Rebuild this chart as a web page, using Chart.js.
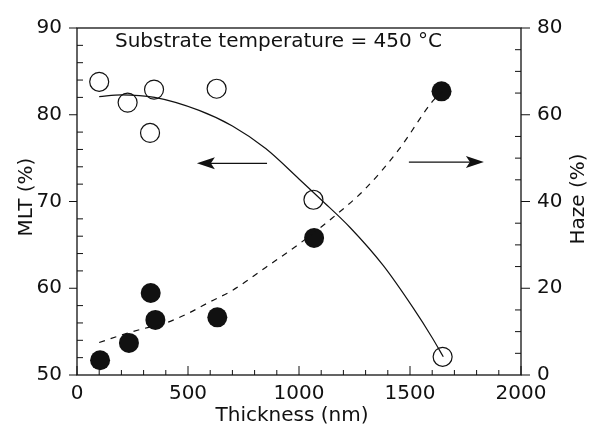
<!DOCTYPE html>
<html>
<head>
<title>MLT and Haze vs Thickness</title>
<script src="https://cdn.jsdelivr.net/npm/chart.js"></script>
<style>
    body { margin: 0; background: #fff; }
    #chart { display: block; }
</style>
</head>
<body>
<canvas id="chart" width="591" height="425"></canvas>
<script>
// measured points (open circles -> MLT, left axis; filled -> Haze, right axis)
const mltThickness = [100, 228, 329, 347, 629, 1065, 1647];
const mltValues = [83.8, 81.4, 77.9, 82.9, 83.0, 70.2, 52.1];
const hazeThickness = [104, 234, 332, 353, 632, 1068, 1642];
const hazeValues = [3.4, 7.4, 18.9, 12.7, 13.3, 31.6, 65.4];

// guide curves
const mltFitThickness = [100, 200, 350, 550, 700, 850, 1000, 1100, 1230, 1380, 1515, 1600, 1650];
const mltFitValues = [82.1, 82.3, 82.0, 80.5, 78.7, 76.1, 72.6, 70.2, 67.0, 62.6, 57.7, 54.3, 52.1];
const hazeFitThickness = [100, 200, 300, 400, 500, 600, 700, 850, 1000, 1150, 1300, 1450, 1600, 1645];
const hazeFitValues = [7.5, 9.2, 10.7, 12.0, 14.2, 16.9, 19.5, 24.8, 30.2, 36.2, 43.0, 52.0, 63.0, 65.4];

// arrows pointing to the axis each curve belongs to
const arrowFrom = [856, 1495];
const arrowTo = [540, 1833];
const arrowLevel = [74.4, 49.1];
const arrowAxis = ['y', 'y1'];

const ink = '#111';
const tickFont = { family: 'DejaVu Sans', size: 20 };
const plainTick = v => String(v);

function pts(xs, ys) {
    return xs.map((x, i) => ({ x: x, y: ys[i] }));
}

function arrowHead(ctx, tx, ty, dir) {
    ctx.beginPath();
    ctx.moveTo(tx, ty);
    ctx.lineTo(tx - dir * 18, ty - 6);
    ctx.lineTo(tx - dir * 14, ty);
    ctx.lineTo(tx - dir * 18, ty + 6);
    ctx.closePath();
    ctx.fill();
}

// frame, inner/outer tick marks, arrows and text
const framePlugin = {
    id: 'frame',
    afterDatasetsDraw(chart) {
        const { ctx, chartArea: a, scales } = chart;
        const x = scales.x, yl = scales.y, yr = scales.y1;
        ctx.save();
        ctx.strokeStyle = ink;
        ctx.fillStyle = ink;
        ctx.lineWidth = 1.3;
        ctx.strokeRect(a.left, a.top, a.right - a.left, a.bottom - a.top);

        ctx.lineWidth = 1;
        ctx.beginPath();
        for (let v = 0; v <= 2000; v += 100) {
            const px = x.getPixelForValue(v);
            const len = v % 500 === 0 ? 9 : 5;
            ctx.moveTo(px, a.bottom);
            ctx.lineTo(px, a.bottom - len);
        }
        for (let v = 50; v <= 90; v += 2) {
            const py = yl.getPixelForValue(v);
            if (v % 10 === 0) {
                ctx.moveTo(a.left - 8, py);
                ctx.lineTo(a.left, py);
            } else {
                ctx.moveTo(a.left, py);
                ctx.lineTo(a.left + 6, py);
            }
        }
        for (let v = 0; v <= 80; v += 5) {
            const py = yr.getPixelForValue(v);
            if (v % 20 === 0) {
                ctx.moveTo(a.right, py);
                ctx.lineTo(a.right + 9, py);
            } else {
                ctx.moveTo(a.right, py);
                ctx.lineTo(a.right - 6, py);
            }
        }
        ctx.stroke();

        // arrows
        ctx.lineWidth = 1.3;
        arrowFrom.forEach((f, i) => {
            const sc = scales[arrowAxis[i]];
            const py = sc.getPixelForValue(arrowLevel[i]);
            const x0 = x.getPixelForValue(f);
            const x1 = x.getPixelForValue(arrowTo[i]);
            const dir = x1 > x0 ? 1 : -1;
            ctx.beginPath();
            ctx.moveTo(x0, py);
            ctx.lineTo(x1 - dir * 14, py);
            ctx.stroke();
            arrowHead(ctx, x1, py, dir);
        });

        // texts
        ctx.font = '20px "DejaVu Sans"';
        ctx.textBaseline = 'alphabetic';
        ctx.textAlign = 'left';
        ctx.fillText('Substrate temperature = 450 \u00b0C', 115, 47);

        ctx.textAlign = 'center';
        ctx.fillText('Thickness (nm)', 292, 421);

        ctx.save();
        ctx.translate(32, 197);
        ctx.rotate(-Math.PI / 2);
        ctx.fillText('MLT (%)', 0, 0);
        ctx.restore();

        ctx.save();
        ctx.translate(584, 199);
        ctx.rotate(-Math.PI / 2);
        ctx.fillText('Haze (%)', 0, 0);
        ctx.restore();

        ctx.restore();
    }
};

new Chart(document.getElementById('chart'), {
    type: 'scatter',
    data: {
        datasets: [
            {
                label: 'MLT fit',
                data: pts(mltFitThickness, mltFitValues),
                yAxisID: 'y',
                showLine: true,
                borderColor: ink,
                borderWidth: 1.2,
                pointRadius: 0,
                cubicInterpolationMode: 'monotone'
            },
            {
                label: 'Haze fit',
                data: pts(hazeFitThickness, hazeFitValues),
                yAxisID: 'y1',
                showLine: true,
                borderColor: ink,
                borderWidth: 1.2,
                borderDash: [6, 6],
                pointRadius: 0,
                cubicInterpolationMode: 'monotone'
            },
            {
                label: 'MLT',
                data: pts(mltThickness, mltValues),
                yAxisID: 'y',
                pointRadius: 9.5,
                pointBackgroundColor: 'rgba(0,0,0,0)',
                pointBorderColor: ink,
                pointBorderWidth: 1.2
            },
            {
                label: 'Haze',
                data: pts(hazeThickness, hazeValues),
                yAxisID: 'y1',
                pointRadius: 10,
                pointBackgroundColor: ink,
                pointBorderColor: ink,
                pointBorderWidth: 0
            }
        ]
    },
    options: {
        responsive: false,
        animation: false,
        layout: { padding: { top: 19 } },
        plugins: {
            legend: { display: false },
            tooltip: { enabled: false }
        },
        scales: {
            x: {
                type: 'linear',
                min: 0,
                max: 2000,
                ticks: { stepSize: 500, font: tickFont, color: ink, padding: 7, maxRotation: 0, callback: plainTick },
                grid: { display: false, drawTicks: false },
                border: { display: false },
                afterFit(s) { s.height = 50; }
            },
            y: {
                position: 'left',
                min: 50,
                max: 90,
                ticks: { stepSize: 10, font: tickFont, color: ink, padding: 15, callback: plainTick },
                grid: { display: false, drawTicks: false },
                border: { display: false },
                afterFit(s) { s.width = 77; }
            },
            y1: {
                position: 'right',
                min: 0,
                max: 80,
                ticks: { stepSize: 20, font: tickFont, color: ink, padding: 16, callback: plainTick },
                grid: { display: false, drawTicks: false },
                border: { display: false },
                afterFit(s) { s.width = 70; }
            }
        }
    },
    plugins: [framePlugin]
});
</script>
</body>
</html>
